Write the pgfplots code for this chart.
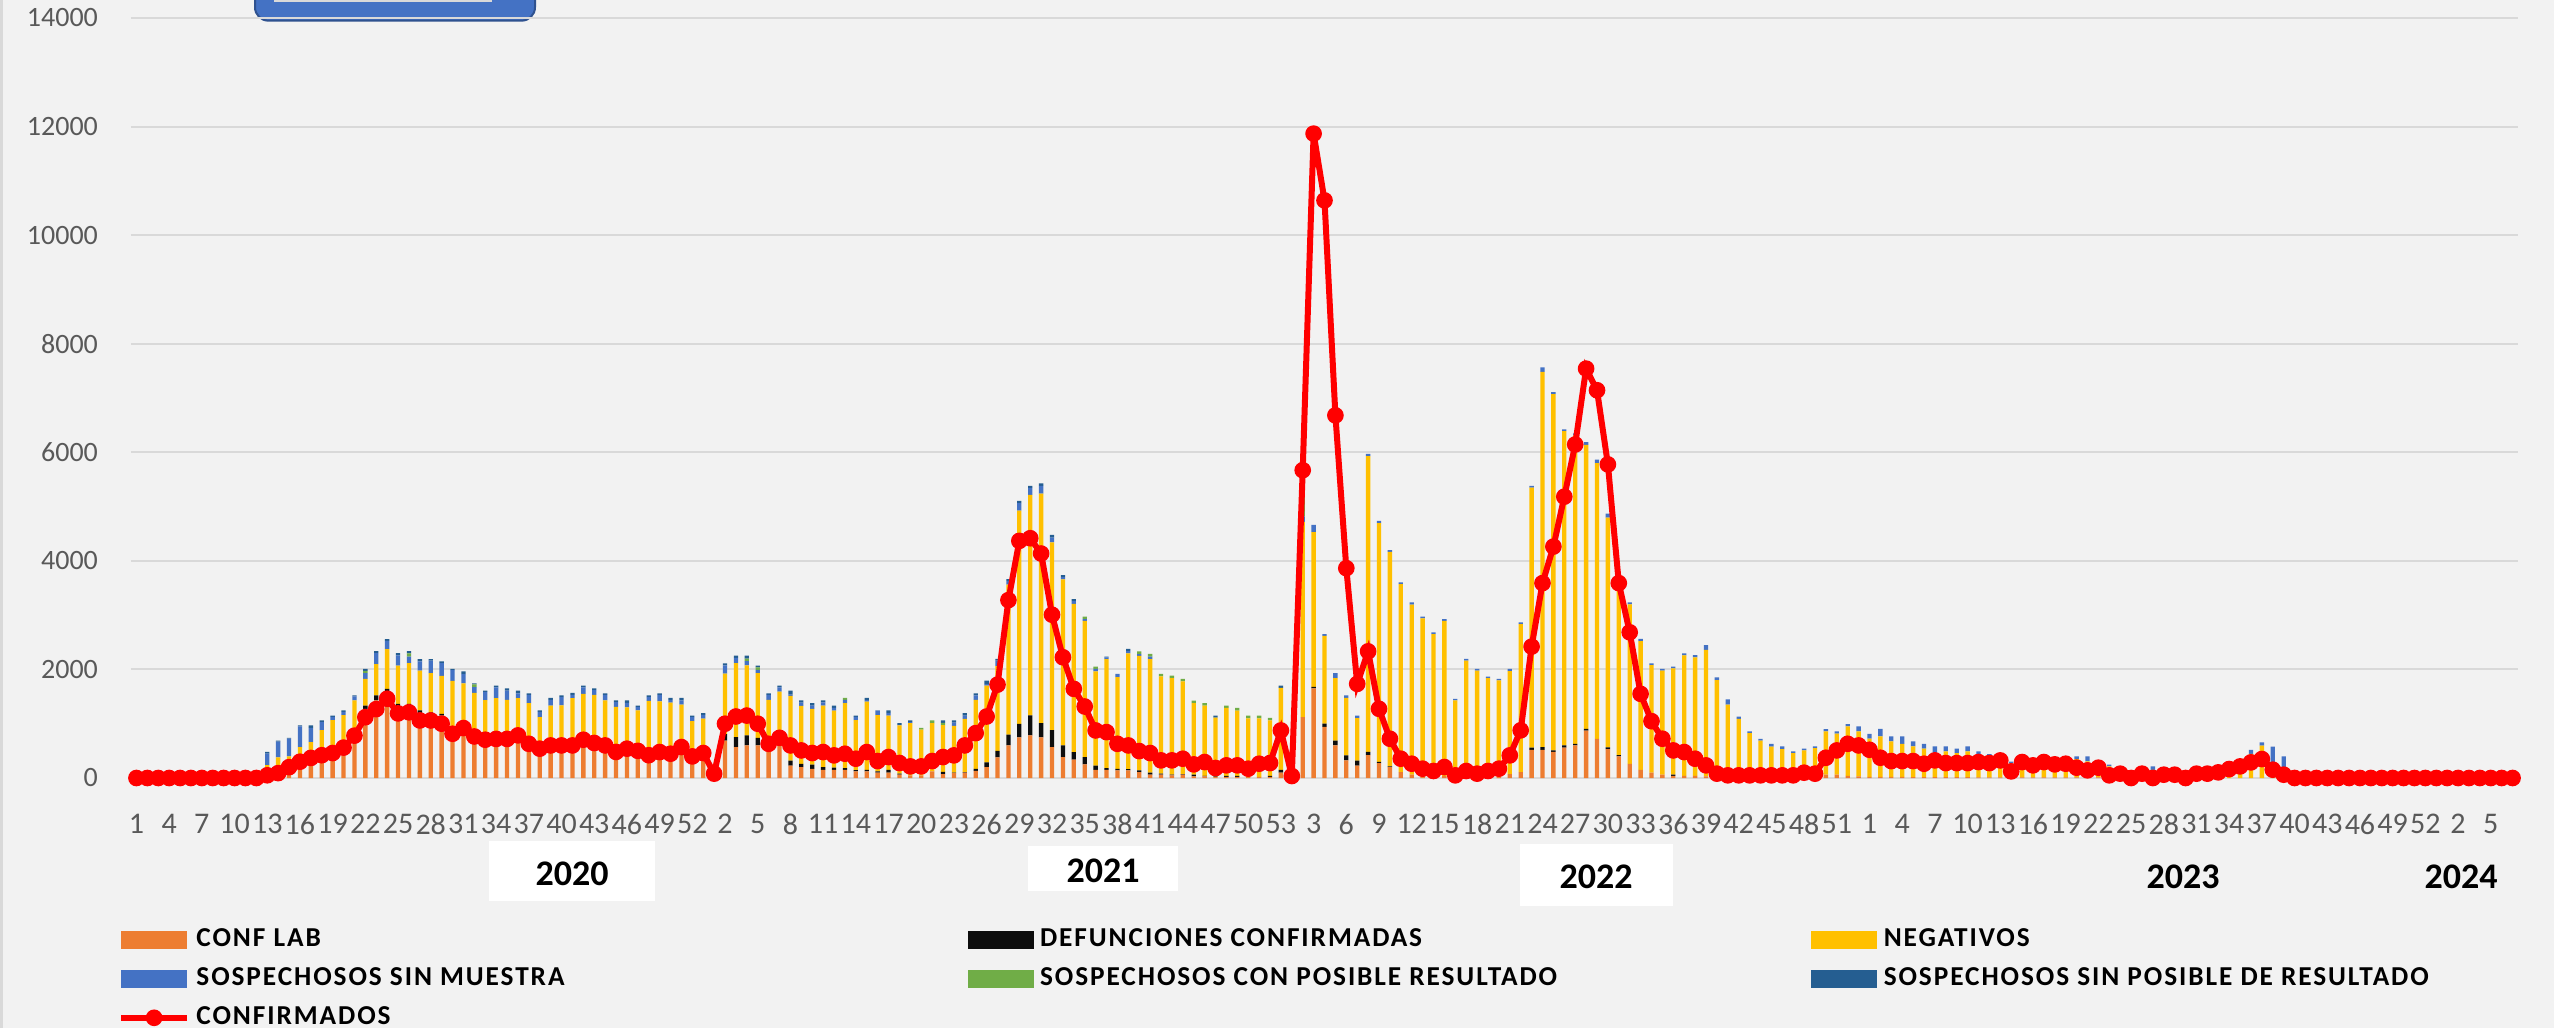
\documentclass[border=0pt]{standalone}
\usepackage{pgfplots}
\usepackage{pgfplotstable}
\pgfplotsset{compat=1.18}
\usepackage{fontspec}
\setmainfont{Carlito}
\newfontfamily\legfont[LetterSpace=7]{Carlito}
\definecolor{bg}{RGB}{242,242,242}
\definecolor{clorange}{RGB}{237,125,49}
\definecolor{defblack}{RGB}{13,13,13}
\definecolor{negyellow}{RGB}{255,192,0}
\definecolor{ssmblue}{RGB}{68,114,196}
\definecolor{scpgreen}{RGB}{112,173,71}
\definecolor{sspblue}{RGB}{37,94,145}
\definecolor{tickgray}{RGB}{89,89,89}
\definecolor{gridgray}{RGB}{217,217,217}
\definecolor{shapeedge}{RGB}{47,82,143}
\pgfplotstableread{
i cl def neg ssm scp ssp conf
1 0 0 0 0 0 0 0
2 0 0 0 0 0 0 0
3 0 0 0 0 0 0 0
4 0 0 0 0 0 0 0
5 0 0 0 0 0 0 0
6 0 0 0 0 0 0 0
7 0 0 0 0 0 0 0
8 0 0 0 0 0 0 0
9 0 0 0 0 0 0 0
10 0 0 0 0 0 0 0
11 0 0 0 0 0 0 0
12 0 0 0 0 0 0 0
13 60 0 175 215 0 30 50
14 100 0 280 290 0 20 90
15 200 0 200 325 0 15 200
16 300 0 270 380 0 20 300
17 400 0 260 265 0 45 370
18 430 0 450 150 0 30 420
19 480 0 585 60 0 25 460
20 580 0 580 60 0 25 560
21 815 0 615 75 0 15 780
22 1275 60 490 105 45 35 1120
23 1430 90 580 200 0 35 1270
24 1580 60 735 150 0 35 1460
25 1317 50 705 185 0 43 1190
26 1320 45 750 120 60 40 1210
27 1200 45 735 170 0 40 1060
28 1180 30 720 230 0 30 1060
29 1150 30 700 235 0 35 1000
30 880 20 890 195 0 25 815
31 1000 20 725 170 0 50 920
32 815 15 740 105 50 20 765
33 720 10 705 150 0 25 705
34 740 0 730 200 0 30 720
35 740 0 700 170 0 40 720
36 790 0 680 90 0 50 785
37 640 0 740 150 0 30 630
38 560 0 560 100 0 25 540
39 620 0 715 105 0 35 600
40 620 0 720 150 0 30 600
41 620 0 850 60 0 40 600
42 720 0 830 120 0 30 705
43 660 0 870 90 0 30 645
44 620 0 810 100 0 30 600
45 500 0 810 90 0 30 480
46 560 0 740 85 0 45 540
47 510 0 735 60 0 30 500
48 450 0 970 70 0 30 420
49 490 0 920 120 0 30 478
50 460 0 930 50 0 35 447
51 580 0 770 80 0 45 570
52 410 0 640 70 0 30 398
53 470 0 625 70 0 30 460
54 80 0 70 0 0 0 80
55 690 120 1115 150 0 38 1000
56 570 185 1360 100 0 40 1133
57 600 185 1290 80 45 55 1150
58 600 140 1190 60 50 30 1000
59 630 0 810 90 0 30 630
60 630 30 930 80 0 30 740
61 230 90 1195 20 0 75 600
62 200 60 1070 60 0 40 508
63 170 75 1030 60 0 45 460
64 150 50 1135 60 0 35 478
65 150 40 1050 50 0 45 417
66 150 30 1200 60 35 0 447
67 120 25 920 60 0 25 355
68 120 30 1255 30 0 40 478
69 100 20 1040 80 0 5 312
70 100 50 1000 45 0 50 386
71 60 20 890 10 0 30 276
72 50 0 960 20 0 30 214
73 50 0 840 0 35 0 214
74 120 0 890 0 50 0 312
75 70 45 860 0 40 45 386
76 90 10 860 60 0 40 417
77 100 10 980 60 0 45 600
78 130 40 1270 80 0 40 827
79 200 90 1410 30 0 65 1133
80 380 120 1560 100 0 33 1720
81 600 200 2760 70 0 33 3277
82 750 245 3930 140 0 38 4368
83 785 370 4060 130 0 34 4417
84 750 260 4230 140 0 48 4135
85 570 310 3460 90 0 48 3008
86 385 215 3060 40 0 37 2224
87 337 140 2730 50 0 39 1642
88 250 135 2510 30 46 0 1317
89 150 80 1735 45 42 0 876
90 150 30 2010 30 0 16 845
91 140 30 1690 57 0 0 630
92 140 25 2130 40 0 42 600
93 110 30 2110 30 54 0 496
94 60 40 2090 45 50 0 460
95 60 20 1790 0 47 0 325
96 50 10 1780 0 47 0 325
97 60 10 1710 0 45 0 355
98 30 30 1320 0 47 0 251
99 30 10 1295 0 43 0 294
100 20 10 1080 0 0 40 184
101 20 20 1250 0 45 0 233
102 20 20 1200 0 52 0 233
103 20 0 1080 0 50 0 172
104 20 0 1080 0 50 0 263
105 20 20 1020 0 48 0 276
106 100 50 1510 0 0 40 876
107 20 0 30 0 0 0 37
108 1120 0 3600 100 760 0 5670
109 1650 30 2850 133 0 0 11870
110 940 60 1620 32 0 0 10640
111 600 90 1150 90 0 0 6680
112 325 90 1060 45 0 0 3865
113 230 90 785 45 0 0 1734
114 420 60 5450 43 0 0 2333
115 275 20 4400 40 0 0 1274
116 200 15 3950 31 0 0 723
117 110 0 3460 32 0 0 355
118 60 0 3135 40 0 0 263
119 50 0 2890 31 0 0 172
120 30 0 2620 33 0 0 129
121 40 0 2855 33 0 0 202
122 15 0 1413 30 0 0 49
123 30 0 2130 33 0 0 129
124 20 0 1960 29 0 0 80
125 30 0 1810 28 0 0 129
126 40 0 1760 25 0 0 172
127 70 0 1900 39 0 0 417
128 110 0 2725 32 0 0 878
129 520 40 4790 29 0 0 2420
130 520 50 6910 85 0 0 3590
131 480 30 6560 36 0 0 4263
132 560 40 5790 30 0 0 5182
133 600 30 5680 40 0 0 6144
134 875 30 5230 53 0 0 7541
135 720 0 5080 63 0 0 7143
136 530 35 4230 75 0 0 5777
137 400 20 3300 35 0 0 3590
138 260 0 2940 35 0 0 2684
139 150 0 2370 41 0 0 1550
140 100 0 1980 33 0 0 1047
141 60 0 1920 29 0 0 723
142 40 20 1960 32 0 0 508
143 40 0 2220 37 0 0 478
144 40 0 2180 44 0 0 355
145 30 0 2330 88 0 0 233
146 20 0 1785 49 0 0 80
147 10 0 1340 100 0 0 49
148 10 0 1080 42 0 0 49
149 10 0 815 32 0 0 49
150 10 0 680 32 0 0 49
151 10 0 570 50 0 0 49
152 10 0 520 51 0 0 49
153 10 0 450 30 0 0 49
154 15 0 494 30 0 0 98
155 15 0 536 30 0 0 80
156 60 0 800 40 0 0 373
157 60 0 757 40 0 0 508
158 40 0 911 40 0 0 630
159 30 0 829 90 0 0 600
160 20 0 704 90 0 0 520
161 20 0 746 140 0 0 373
162 20 0 655 90 0 0 312
163 20 0 610 135 0 0 312
164 15 0 568 90 0 0 312
165 15 0 525 90 0 0 263
166 15 0 446 120 0 0 324
167 15 0 476 90 0 0 275
168 15 0 444 80 0 0 275
169 15 0 476 90 0 0 275
170 10 0 390 90 0 0 294
171 10 0 390 41 0 0 275
172 10 0 320 37 0 0 324
173 10 0 260 30 0 0 122
174 10 0 320 37 0 0 294
175 10 0 290 30 0 0 233
176 10 0 348 40 0 0 294
177 10 0 300 30 0 0 251
178 10 0 345 43 0 0 263
179 10 0 340 48 0 0 190
180 10 0 298 90 0 0 141
181 10 0 246 50 0 0 190
182 0 0 215 30 0 0 49
183 0 0 150 64 0 0 80
184 0 0 90 32 0 0 0
185 0 0 70 30 0 0 80
186 0 0 150 64 0 0 0
187 0 0 40 20 0 0 61
188 0 0 40 20 0 0 61
189 0 0 40 20 0 0 0
190 0 0 50 30 0 0 80
191 0 0 50 30 0 0 80
192 0 0 90 30 0 0 104
193 0 0 140 40 0 0 165
194 0 0 200 50 0 0 214
195 0 0 445 75 0 0 288
196 0 0 595 60 0 0 349
197 0 0 80 500 0 0 153
198 0 0 50 348 0 0 61
199 0 0 0 0 0 0 0
200 0 0 0 0 0 0 0
201 0 0 0 0 0 0 0
202 0 0 0 0 0 0 0
203 0 0 0 0 0 0 0
204 0 0 0 0 0 0 0
205 0 0 0 0 0 0 0
206 0 0 0 0 0 0 0
207 0 0 0 0 0 0 0
208 0 0 0 0 0 0 0
209 0 0 0 0 0 0 0
210 0 0 0 0 0 0 0
211 0 0 0 0 0 0 0
212 0 0 0 0 0 0 0
213 0 0 0 0 0 0 0
214 0 0 0 0 0 0 0
215 0 0 0 0 0 0 0
216 0 0 0 0 0 0 0
217 0 0 0 0 0 0 0
218 0 0 0 0 0 0 0
219 0 0 0 0 0 0 0
}\data
\pgfplotsset{
  swatch/.style={legend image code/.code={\fill[##1, draw=none] (0pt,-2.6pt) rectangle (19.8pt,2.6pt);}},
  redleg/.style={legend image code/.code={\draw[mark repeat=2,mark phase=2,##1] plot coordinates {(0pt,0pt) (9.9pt,0pt) (19.8pt,0pt)};}},
  common/.style={at={(39.3pt,75pt)}, anchor=south west, scale only axis,
    width=716.1pt, height=228pt, xmin=0.5, xmax=219.5, ymin=0, ymax=14000},
}
\newcommand{\lt}[1]{\makebox[231.4pt][l]{#1}}
\begin{document}
\begin{tikzpicture}
\useasboundingbox (0,0) rectangle (766.2pt,308.4pt);
\fill[bg] (0,0) rectangle (766.2pt,308.4pt);
\draw[gray!30, line width=0.8pt] (0.4pt,0) -- (0.4pt,308.4pt);
% decorative shape at the top
\draw[fill=ssmblue, draw=shapeedge, line width=0.6pt, rounded corners=4pt] (76.5pt,302.2pt) rectangle (160.5pt,316pt);
\fill[gridgray] (82.2pt,307.8pt) rectangle (147.6pt,312pt);
% year boxes
\fill[white] (146.7pt,38pt) rectangle (196.5pt,56pt);
\fill[white] (308.4pt,41.1pt) rectangle (353.4pt,54.6pt);
\fill[white] (456pt,36.6pt) rectangle (501.9pt,55.2pt);
\begin{axis}[common,
  ybar stacked, bar width=1.3pt,
  axis line style={draw=none}, major tick length=0pt,
  ytick={0,2000,...,14000}, ymajorgrids,
  grid style={line width=0.6pt, draw=gridgray},
  xtick={1,4,...,217},
  xticklabels={1,4,7,10,13,16,19,22,25,28,31,34,37,40,43,46,49,52,2,5,8,11,14,17,20,23,26,29,32,35,38,41,44,47,50,53,3,6,9,12,15,18,21,24,27,30,33,36,39,42,45,48,51,1,4,7,10,13,16,19,22,25,28,31,34,37,40,43,46,49,52,2,5},
  ticklabel style={text=tickgray},
  yticklabel style={font=\fontsize{8.4}{10}\selectfont, xshift=-6.4pt},
  xticklabel style={font=\fontsize{9}{10}\selectfont, yshift=-7.2pt},
  /pgf/number format/assume math mode=true,
  /pgf/number format/1000 sep={},
  scaled y ticks=false,
  every axis plot/.append style={draw=none},
]
\addplot[fill=clorange] table[x=i,y=cl]{\data};
\addplot[fill=defblack] table[x=i,y=def]{\data};
\addplot[fill=negyellow] table[x=i,y=neg]{\data};
\addplot[fill=ssmblue] table[x=i,y=ssm]{\data};
\addplot[fill=scpgreen] table[x=i,y=scp]{\data};
\addplot[fill=sspblue] table[x=i,y=ssp]{\data};
\end{axis}
\begin{axis}[common, hide axis,
  legend columns=3,
  legend cell align=left,
  legend style={at={(-0.0054,-0.198)}, anchor=north west, draw=none, fill=none,
    inner sep=0pt, outer sep=0pt, row sep=4.8pt, column sep=0pt,
    font=\fontsize{8.2}{9}\selectfont\legfont\bfseries,
    nodes={inner sep=0pt, outer sep=0pt},
    /tikz/every odd column/.append style={column sep=1.9pt}},
]
\addlegendimage{swatch, fill=clorange}
\addlegendentry{\lt{CONF LAB}}
\addlegendimage{swatch, fill=defblack}
\addlegendentry{\lt{DEFUNCIONES CONFIRMADAS}}
\addlegendimage{swatch, fill=negyellow}
\addlegendentry{\lt{NEGATIVOS}}
\addlegendimage{swatch, fill=ssmblue}
\addlegendentry{\lt{SOSPECHOSOS SIN MUESTRA}}
\addlegendimage{swatch, fill=scpgreen}
\addlegendentry{\lt{SOSPECHOSOS CON POSIBLE RESULTADO}}
\addlegendimage{swatch, fill=sspblue}
\addlegendentry{\lt{SOSPECHOSOS SIN POSIBLE DE RESULTADO}}
\addplot[redleg, color=red, line width=1.8pt, mark=*, mark size=2.3pt,
  mark options={solid, fill=red, draw=red, line width=0.4pt}]
  table[x=i,y=conf]{\data};
\addlegendentry{\lt{CONFIRMADOS}}
\end{axis}
\begin{scope}[font=\fontsize{10.8}{12}\selectfont\bfseries]
\node at (171.6pt,46.3pt) {2020};
\node at (330.9pt,47.2pt) {2021};
\node at (478.8pt,45.4pt) {2022};
\node at (654.9pt,45.4pt) {2023};
\node at (738.3pt,45.4pt) {2024};
\end{scope}
\end{tikzpicture}
\end{document}
